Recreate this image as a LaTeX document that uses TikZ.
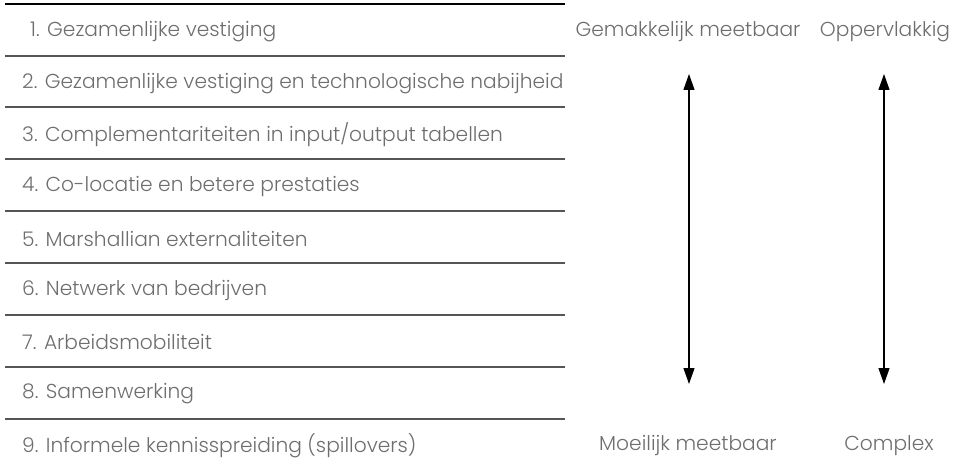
\documentclass[tikz,border=0pt]{standalone}
\usepackage{fontspec}
\setmainfont{Poppins Light}
\usetikzlibrary{arrows.meta}
\definecolor{txtgray}{HTML}{6E6E6E}
\definecolor{rulegray}{HTML}{555555}

\begin{document}
\begin{tikzpicture}[x=1pt,y=-1pt,
        item/.style={anchor=west, inner sep=0pt, text=txtgray, font=\fontsize{20.2}{24}\selectfont},
        side/.style={inner sep=0pt, text=txtgray, font=\fontsize{20.2}{24}\selectfont},
        sep/.style={rulegray, line width=1.3pt},
        scale arrow/.style={black, line width=1.2pt, {Triangle[width=11pt,length=16pt]}-{Triangle[width=11pt,length=16pt]}}]
        \useasboundingbox (0,0) rectangle (964,470);
        % rows
        \node[item] (item1) at (30,32) {1. Gezamenlijke vestiging};
        \node[item] (item2) at (22,84) {2. Gezamenlijke vestiging en technologische nabijheid};
        \node[item] (item3) at (22,135) {3. Complementariteiten in input/output tabellen};
        \node[item] (item4) at (22,187) {4. Co-locatie en betere prestaties};
        \node[item] (item5) at (22,239) {5. Marshallian externaliteiten};
        \node[item] (item6) at (22,291) {6. Netwerk van bedrijven};
        \node[item] (item7) at (22,342) {7. Arbeidsmobiliteit};
        \node[item] (item8) at (22,394) {8. Samenwerking};
        \node[item] (item9) at (22,446) {9. Informele kennisspreiding (spillovers)};
        \draw[black, line width=1.3pt] (5,4) -- (565,4);
        \draw[sep] (5,56) -- (565,56);
        \draw[sep] (5,107) -- (565,107);
        \draw[sep] (5,159) -- (565,159);
        \draw[sep] (5,211) -- (565,211);
        \draw[sep] (5,263) -- (565,263);
        \draw[sep] (5,315) -- (565,315);
        \draw[sep] (5,367) -- (565,367);
        \draw[sep] (5,419) -- (565,419);
        % scales
        \node[side] (easy) at (688,32) {Gemakkelijk meetbaar};
        \node[side] (hard) at (688,446) {Moeilijk meetbaar};
        \node[side] (surface) at (885,32) {Oppervlakkig};
        \node[side] (complex) at (889,446) {Complex};
        \coordinate (easytop) at (689,74);
        \coordinate (hardbot) at (689,384);
        \coordinate (surftop) at (884,74);
        \coordinate (complbot) at (884,384);
        \draw[scale arrow] (easytop) -- (hardbot);
        \draw[scale arrow] (surftop) -- (complbot);
\end{tikzpicture}
\end{document}
